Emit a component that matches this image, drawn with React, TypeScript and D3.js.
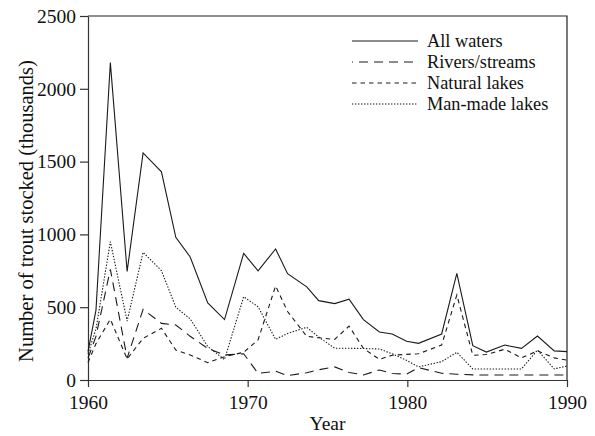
import React, { useEffect, useRef } from 'react';
import * as d3 from 'd3';

const years = [1960.0, 1960.5, 1961.4, 1962.45, 1963.45, 1964.6, 1965.5, 1966.4, 1967.5, 1968.55,
  1969.75, 1970.65, 1971.75, 1972.5, 1973.7, 1974.45, 1975.45, 1976.35, 1977.25, 1978.25,
  1979.05, 1979.95, 1980.7, 1982.15, 1983.1, 1984.1, 1984.95, 1986.1, 1987.15, 1988.15,
  1989.2, 1990.0];

const allWaters = [195, 480, 2180, 745, 1560, 1430, 980, 845, 530, 415,
  870, 750, 900, 730, 640, 545, 525, 555, 415, 330,
  316, 266, 252, 316, 733, 236, 192, 240, 217, 302,
  200, 195];

const riversStreams = [150, 300, 760, 150, 485, 389, 378, 300, 217, 172,
  180, 46, 60, 30, 50, 70, 90, 52, 35, 69,
  45, 40, 85, 46, 40, 35, 34, 34, 34, 34,
  34, 34];

const naturalLakes = [120, 250, 417, 145, 286, 355, 206, 172, 119, 160,
  190, 275, 646, 470, 300, 290, 279, 370, 217, 142,
  170, 176, 180, 240, 584, 170, 175, 211, 152, 200,
  152, 137];

const manMadeLakes = [180, 350, 950, 405, 877, 751, 500, 420, 230, 140,
  572, 503, 279, 320, 362, 295, 218, 218, 216, 213,
  180, 135, 90, 126, 190, 76, 76, 76, 76, 206,
  76, 96];

const seriesNames = ['All waters', 'Rivers/streams', 'Natural lakes', 'Man-made lakes'];
const xTicks = [1960, 1970, 1980, 1990];
const yTicks = [0, 500, 1000, 1500, 2000, 2500];

const App = () => {
  const svgRef = useRef(null);

  useEffect(() => {
    const margin = { top: 16, right: 28, bottom: 56, left: 88 };
    const W = 595;
    const H = 436;
    const width = W - margin.left - margin.right;
    const height = H - margin.top - margin.bottom;
    const font = '"Liberation Serif", "Times New Roman", serif';

    const root = d3.select(svgRef.current);
    root.selectAll('*').remove();
    const svg = root.append('g')
      .attr('transform', `translate(${margin.left},${margin.top})`);

    const x = d3.scaleLinear().domain([1960, 1990]).range([0, width]);
    const y = d3.scaleLinear().domain([0, 2500]).range([height, 0]);

    // frame (top and right)
    svg.append('path')
      .attr('d', `M0,0H${width}V${height}`)
      .attr('fill', 'none')
      .attr('stroke', '#222')
      .attr('stroke-width', 1.2);

    const yAxis = svg.append('g')
      .call(d3.axisLeft(y).tickValues(yTicks).tickSize(8).tickSizeOuter(0).tickPadding(4).tickFormat(d3.format('d')));
    const xAxis = svg.append('g')
      .attr('transform', `translate(0,${height})`)
      .call(d3.axisBottom(x).tickValues(xTicks).tickSize(7).tickSizeOuter(0).tickPadding(8).tickFormat(d3.format('d')));

    [yAxis, xAxis].forEach(ax => {
      ax.selectAll('path, line').attr('stroke', '#333').attr('stroke-width', 1.2);
      ax.selectAll('text')
        .attr('fill', '#111')
        .style('font-family', font)
        .style('font-size', '19.5px');
    });

    const styles = [
      { data: allWaters, dash: null, offset: 0 },
      { data: riversStreams, dash: '9,6', offset: 8 },
      { data: naturalLakes, dash: '4.5,4', offset: 0 },
      { data: manMadeLakes, dash: '1.4,1.6', offset: 0 },
    ];

    const line = d3.line()
      .x(d => x(d[0]))
      .y(d => y(d[1]));

    styles.forEach(s => {
      svg.append('path')
        .datum(years.map((yr, i) => [yr, s.data[i]]))
        .attr('d', line)
        .attr('fill', 'none')
        .attr('stroke', '#1a1a1a')
        .attr('stroke-width', 1.1)
        .attr('stroke-dasharray', s.dash)
        .attr('stroke-linejoin', 'miter');
    });

    // legend
    const legend = svg.append('g').attr('transform', `translate(${352 - margin.left},${41 - margin.top})`);
    styles.forEach((s, i) => {
      legend.append('line')
        .attr('x1', 0).attr('x2', 66)
        .attr('y1', i * 21).attr('y2', i * 21)
        .attr('stroke', '#1a1a1a')
        .attr('stroke-width', 1.1)
        .attr('stroke-dasharray', s.dash)
        .attr('stroke-dashoffset', s.offset);
      legend.append('text')
        .attr('x', 75)
        .attr('y', i * 21 + 5.5)
        .attr('fill', '#111')
        .style('font-family', font)
        .style('font-size', '18.3px')
        .text(seriesNames[i]);
    });

    // axis titles
    svg.append('text')
      .attr('x', width / 2)
      .attr('y', height + 50)
      .attr('text-anchor', 'middle')
      .attr('fill', '#111')
      .style('font-family', font)
      .style('font-size', '19.5px')
      .text('Year');

    svg.append('text')
      .attr('transform', `translate(${26 - margin.left},${211 - margin.top}) rotate(-90)`)
      .attr('text-anchor', 'middle')
      .attr('dy', '0.35em')
      .attr('fill', '#111')
      .style('font-family', font)
      .style('font-size', '20.5px')
      .text('Number of trout stocked (thousands)');
  }, []);

  return (
    <svg ref={svgRef} width={595} height={436}
      style={{ position: 'absolute', left: 0, top: 0, background: '#fff' }} />
  );
};

export default App;
